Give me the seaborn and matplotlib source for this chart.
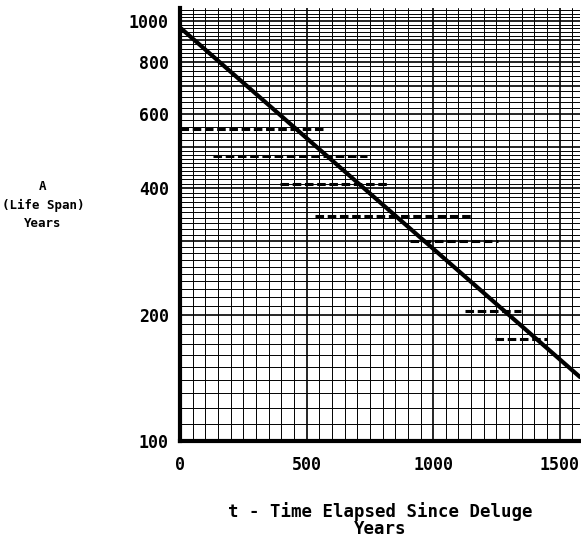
import numpy as np
import pandas as pd
import matplotlib
matplotlib.use("Agg")
import matplotlib.pyplot as plt
import seaborn as sns
from matplotlib.ticker import FixedLocator, NullFormatter

# ---- data ----
seg_start = [0, 130, 395, 535, 910, 1125, 1245]      # t (years after deluge)
seg_end = [565, 740, 820, 1155, 1255, 1345, 1450]
seg_life = [553, 477, 409, 343, 299, 204, 175]        # life span A (years)

trend_t = [0, 1580]
trend_a = [965, 142]

x_ticks = [0, 500, 1000, 1500]
y_tick_labels = {100: "100", 200: "200", 400: "400", 600: "600", 800: "800", 1000: "1000"}

# ---- figure ----
sns.set_style("white")
plt.rcParams["font.family"] = ["DejaVu Sans Mono", "DejaVu Sans"]
plt.rcParams["font.weight"] = "bold"
plt.rcParams["text.color"] = "black"
plt.rcParams["axes.labelcolor"] = "black"
plt.rcParams["xtick.color"] = "black"
plt.rcParams["ytick.color"] = "black"

fig = plt.figure(figsize=(5.81, 5.39), dpi=100)
ax = fig.add_axes([0.3098, 0.1818, 0.6885, 0.8034])
ax.set_yscale("log")

# grid
y_major = list(range(100, 1001, 100))
y_minor = list(range(110, 200, 10)) + list(range(210, 500, 10)) + list(range(520, 1000, 20)) + [1020, 1040, 1060]
x_major = x_ticks
x_minor = list(range(50, 1600, 50))

ax.yaxis.set_major_locator(FixedLocator(y_major))
ax.yaxis.set_minor_locator(FixedLocator(y_minor))
ax.yaxis.set_minor_formatter(NullFormatter())
ax.set_yticklabels([y_tick_labels.get(v, "") for v in y_major])
ax.xaxis.set_major_locator(FixedLocator(x_major))
ax.xaxis.set_minor_locator(FixedLocator(x_minor))
ax.set_xticklabels([str(v) for v in x_major])

ax.grid(True, which="major", color="black", linewidth=1.2)
ax.grid(True, which="minor", color="black", linewidth=0.7)
ax.set_axisbelow(True)

# trend line
sns.lineplot(x=trend_t, y=trend_a, ax=ax, color="black", linewidth=3.0, zorder=4)

# dashed life-span segments
for s, e, a in zip(seg_start, seg_end, seg_life):
    sns.lineplot(x=[s, e], y=[a, a], ax=ax, color="black", linewidth=2.2,
                 linestyle=(0, (2.8, 1.2)), zorder=5)

ax.set_xlim(0, 1580)
ax.set_ylim(100, 1074)

for side in ["top", "right"]:
    ax.spines[side].set_visible(False)
for side in ["left", "bottom"]:
    ax.spines[side].set_linewidth(3.0)
    ax.spines[side].set_color("black")

ax.tick_params(axis="both", which="both", length=0)
ax.tick_params(axis="x", pad=11, labelsize=12)
ax.tick_params(axis="y", pad=8, labelsize=12)
for lab in ax.get_xticklabels() + ax.get_yticklabels():
    lab.set_fontweight("bold")

ax.set_xlabel("t - Time Elapsed Since Deluge\nYears", fontsize=12.5, fontweight="bold",
              labelpad=20, linespacing=0.95)
ax.set_ylabel("A\n(Life Span)\nYears", fontsize=9, fontweight="bold", rotation=0,
              ha="center", va="center", linespacing=1.5)
ax.yaxis.set_label_coords(-0.343, 0.545)

fig.savefig("out.png", dpi=100)
